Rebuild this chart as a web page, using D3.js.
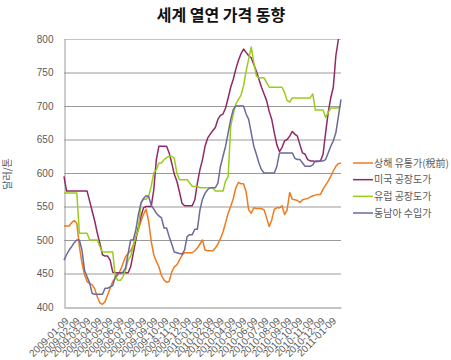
<!DOCTYPE html>
<html>
<head>
<meta charset="utf-8">
<script src="https://cdn.jsdelivr.net/npm/d3@7"></script>
<style>
  html, body { margin: 0; padding: 0; background: #fff; }
  svg { display: block; }
</style>
</head>
<body>
<svg id="chart" width="451" height="360"></svg>
<script>
// ---------- data ----------
const title = "세계 열연 가격 동향";
const yAxisTitle = "달러/톤";
const startDate = "2009-01-09";   // weekly observations
const seriesNames = ["상해 유통가(稅前)", "미국 공장도가", "유럽 공장도가", "동남아 수입가"];
const seriesColors = ["#F07A1E", "#8E2A66", "#9ACD1A", "#6A6A9C"];
const yTicks = [400, 450, 500, 550, 600, 650, 700, 750, 800];
const xTickLabels = [
  "2009-01-09","2009-02-09","2009-03-09","2009-04-09","2009-05-09","2009-06-09",
  "2009-07-09","2009-08-09","2009-09-09","2009-10-09","2009-11-09","2009-12-09",
  "2010-01-09","2010-02-09","2010-03-09","2010-04-09","2010-05-09","2010-06-09",
  "2010-07-09","2010-08-09","2010-09-09","2010-10-09","2010-11-09","2010-12-09",
  "2011-01-09"
];

const shanghai = [
  521,521,521,526,529,525,490,466,448,438,
  435,433,427,415,406,404,408,418,428,438,
  443,448,455,465,475,480,484,492,505,515,
  528,538,546,528,498,478,468,460,447,440,
  437,438,452,460,463,470,477,481,481,481,
  481,484,488,494,500,485,484,484,484,488,
  494,502,512,526,540,550,562,578,586,584,
  584,572,545,540,548,547,547,547,545,533,
  520,530,546,548,548,551,538,545,571,561,
  560,559,556,560,561,562,564,566,567,568,
  568,576,582,588,595,603,610,614,615
];
const usa = [
  595,573,573,573,573,573,573,573,573,573,
  558,543,528,510,495,478,476,476,470,452,
  451,451,451,451,451,451,460,480,500,520,
  535,548,550,550,550,575,620,640,640,640,
  640,630,615,598,588,572,555,551,551,551,
  551,560,585,605,620,640,652,658,663,668,
  680,686,688,697,712,728,740,755,768,778,
  785,780,775,772,762,752,740,728,718,708,
  692,680,660,642,632,638,648,650,655,662,
  658,655,642,630,628,620,618,618,617,617,
  618,628,660,690,712,728,775,800
];
const europe = [
  570,570,570,570,570,570,510,510,510,510,
  500,500,500,500,490,482,482,482,482,482,
  445,440,440,445,455,470,476,490,505,515,
  555,561,561,565,580,600,605,615,615,620,
  623,625,625,622,600,590,590,590,590,585,
  580,580,580,578,578,578,578,578,578,573,
  573,573,573,588,595,670,688,703,710,716,
  730,752,770,788,765,745,742,742,742,735,
  728,728,728,728,728,728,720,708,706,712,
  712,712,712,712,712,712,712,718,694,694,
  694,694,683,690,697,697,697,697,700
];
const seAsia = [
  470,478,485,490,496,500,500,485,455,445,
  436,420,419,419,419,419,428,428,430,432,
  445,450,450,452,458,480,500,500,515,538,
  555,562,566,565,552,546,540,536,533,518,
  518,505,494,482,481,480,479,485,505,508,
  508,516,516,545,561,570,575,578,578,578,
  585,610,625,640,660,680,695,700,700,700,
  700,688,680,660,640,628,615,605,600,600,
  600,600,600,610,630,630,630,630,630,630,
  622,620,620,615,610,610,610,612,618,618,
  618,618,620,630,640,648,660,685,710
];
const seriesValues = [shanghai, usa, europe, seAsia];

// ---------- chart ----------
const parse = d3.timeParse("%Y-%m-%d");
const t0 = parse(startDate);
const weekDate = i => d3.timeDay.offset(t0, 7 * i);
const maxLen = d3.max(seriesValues, s => s.length);

const svg = d3.select("#chart");
const plot = { left: 64, right: 341, top: 39, bottom: 307 };

const x = d3.scaleTime()
  .domain([t0, weekDate(maxLen - 1)])
  .range([plot.left, plot.right]);
const y = d3.scaleLinear()
  .domain([d3.min(yTicks), d3.max(yTicks)])
  .range([plot.bottom, plot.top]);

const numFont = "'Liberation Sans', Arial, sans-serif";
const korFont = "'Noto Sans CJK KR', 'Noto Sans', sans-serif";
const textColor = "#5a5a5a";

// gridlines
svg.append("g")
  .selectAll("line")
  .data(yTicks.filter(v => v !== d3.min(yTicks)))
  .join("line")
  .attr("x1", plot.left).attr("x2", plot.right)
  .attr("y1", d => y(d) + 0.5).attr("y2", d => y(d) + 0.5)
  .attr("stroke", d => d === d3.max(yTicks) ? "#c4c4c4" : "#9a9a9a")
  .attr("stroke-width", 1);

// y axis
const yAxis = svg.append("g")
  .attr("transform", `translate(${plot.left + 0.5},0)`)
  .call(d3.axisLeft(y).tickValues(yTicks).tickSize(0).tickPadding(11));
yAxis.select(".domain").attr("stroke", "#9a9a9a");
yAxis.selectAll("text")
  .attr("font-family", numFont).attr("font-size", 10).attr("fill", textColor);

// x axis
const xAxis = svg.append("g")
  .attr("transform", `translate(0,${plot.bottom + 0.5})`)
  .call(d3.axisBottom(x).tickValues(xTickLabels.map(parse)).tickSize(0)
    .tickFormat(d3.timeFormat("%Y-%m-%d")));
xAxis.select(".domain").attr("stroke", "#8a8a8a");
xAxis.selectAll("text")
  .attr("font-family", numFont).attr("font-size", 10).attr("fill", textColor)
  .attr("text-anchor", "end")
  .attr("transform", "translate(0,9) rotate(-45)")
  .attr("dx", 0).attr("dy", "0.7em").attr("y", 0);

// lines
const line = d3.line()
  .x((d, i) => x(weekDate(i)))
  .y(d => y(d));

svg.append("g")
  .selectAll("path")
  .data(seriesValues)
  .join("path")
  .attr("d", d => line(d))
  .attr("fill", "none")
  .attr("stroke", (d, i) => seriesColors[i])
  .attr("stroke-width", 1.5)
  .attr("stroke-linejoin", "round");

// title
svg.append("text")
  .attr("x", 221).attr("y", 21)
  .attr("text-anchor", "middle")
  .attr("font-family", korFont).attr("font-weight", "bold").attr("font-size", 16)
  .attr("fill", "#111")
  .text(title);

// y axis title
svg.append("text")
  .attr("transform", "translate(11,174) rotate(-90)")
  .attr("text-anchor", "middle")
  .attr("font-family", korFont).attr("font-size", 10).attr("fill", textColor)
  .text(yAxisTitle);

// legend
const legendY = d3.scalePoint().domain(seriesNames).range([163, 213]);
const lg = svg.append("g").selectAll("g").data(seriesNames).join("g")
  .attr("transform", d => `translate(0,${legendY(d)})`);
lg.append("line")
  .attr("x1", 353).attr("x2", 373).attr("y1", 0).attr("y2", 0)
  .attr("stroke", (d, i) => seriesColors[i]).attr("stroke-width", 1.5);
lg.append("text")
  .attr("x", 374).attr("y", 0).attr("dy", "0.35em")
  .attr("font-family", korFont).attr("font-size", 10).attr("fill", textColor)
  .text(d => d);
</script>
</body>
</html>
